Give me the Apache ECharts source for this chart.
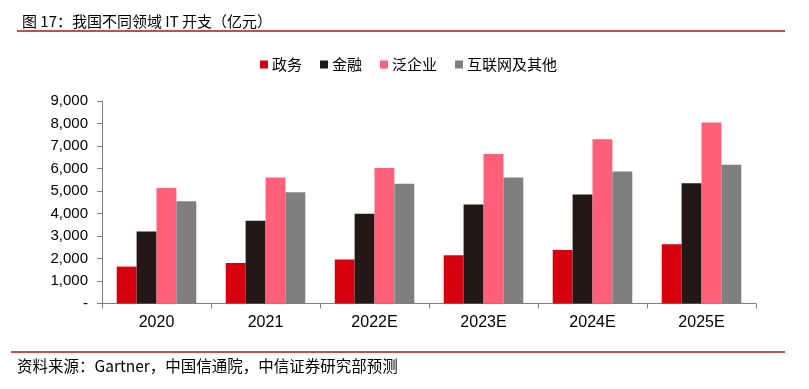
<!DOCTYPE html>
<html><head><meta charset="utf-8">
<script src="https://cdn.jsdelivr.net/npm/echarts@6/dist/echarts.min.js"></script>
<style>html,body{margin:0;padding:0;background:#fff;}#c{width:809px;height:389px;}</style>
</head><body><div id="c"></div>
<script>
const categories = ['2020','2021','2022E','2023E','2024E','2025E'];
const seriesNames = ['政务','金融','泛企业','互联网及其他'];
const gov = [1640, 1800, 1960, 2150, 2380, 2630];
const finance = [3200, 3680, 3990, 4400, 4850, 5340];
const enterprise = [5130, 5600, 6020, 6640, 7300, 8040];
const internet = [4550, 4950, 5320, 5600, 5870, 6170];
const yTicks = [0,1000,2000,3000,4000,5000,6000,7000,8000,9000];
const colors = ['#d7000f','#231815','#ff5f78','#7f7f7f'];
const values = [gov, finance, enterprise, internet];

const chart = echarts.init(document.getElementById('c'));
const num = '"Liberation Sans", Arial, sans-serif';
chart.setOption({
  animation: false,
  backgroundColor: '#fff',
  title: {
    text: '图 17：我国不同领域 IT 开支（亿元）',
    left: 17, top: 9,
    textStyle: {fontFamily: '"Noto Sans CJK SC", sans-serif', fontSize: 15, fontWeight: 'normal', color: '#000'}
  },
  graphic: [
    {type: 'rect', shape: {x: 17, y: 30, width: 768, height: 2}, style: {fill: '#c0504d'}},
    {type: 'rect', shape: {x: 11, y: 351, width: 774, height: 2}, style: {fill: '#c0504d'}},
    {type: 'text', x: 17, y: 358, style: {text: '资料来源：Gartner，中国信通院，中信证券研究部预测', font: '15.5px "Noto Sans CJK SC", sans-serif', fill: '#000'}}
  ],
  legend: {
    data: seriesNames,
    left: 255, top: 52,
    itemWidth: 8, itemHeight: 8, itemGap: 18,
    icon: 'rect',
    textStyle: {fontFamily: '"Noto Sans CJK SC", sans-serif', fontSize: 15, color: '#000', padding: [0,0,0,-1]}
  },
  grid: {left: 102, right: 53, top: 101, bottom: 85.5, containLabel: false},
  xAxis: {
    type: 'category', data: categories,
    axisLine: {lineStyle: {color: '#808080', width: 1}},
    axisTick: {show: true, alignWithLabel: false, length: 5, lineStyle: {color: '#808080'}},
    axisLabel: {fontFamily: num, fontSize: 16, color: '#000', margin: 11}
  },
  yAxis: {
    type: 'value', min: 0, max: 9000, interval: 1000,
    axisLine: {show: true, lineStyle: {color: '#808080'}},
    axisTick: {show: true, inside: false, length: 5, lineStyle: {color: '#808080'}},
    splitLine: {show: false},
    axisLabel: {
      fontFamily: num, fontSize: 15, color: '#000', margin: 14,
      formatter: function(v){ return v === 0 ? '-' : v.toLocaleString('en-US'); }
    }
  },
  series: seriesNames.map((n, i) => ({
    name: n, type: 'bar', data: values[i],
    barGap: '0%', barCategoryGap: '27%',
    itemStyle: {color: colors[i]}
  }))
});
</script></body></html>
